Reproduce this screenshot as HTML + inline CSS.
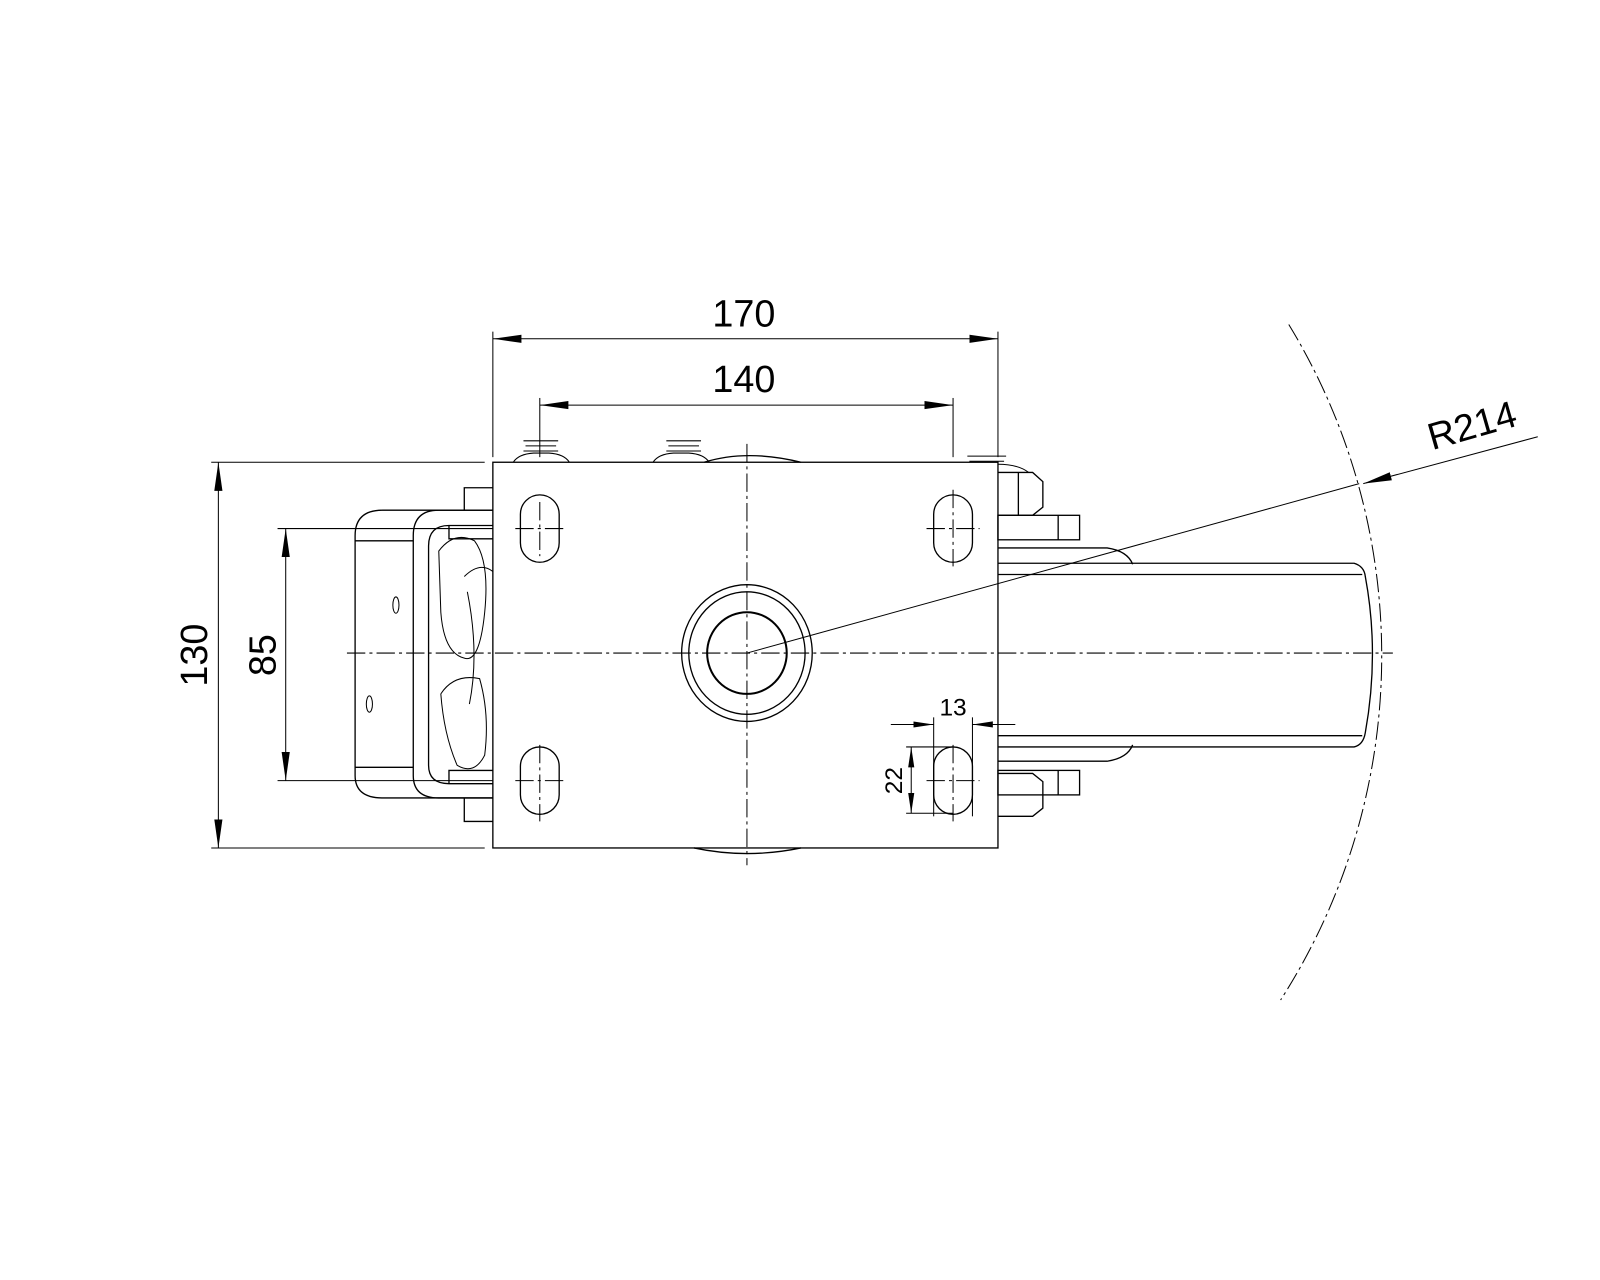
<!DOCTYPE html>
<html><head><meta charset="utf-8"><style>html,body{margin:0;padding:0;background:#fff}svg{display:block}</style></head>
<body>
<svg width="1600" height="1280" viewBox="0 0 1568 1254.4" xmlns="http://www.w3.org/2000/svg" font-family="Liberation Sans, sans-serif">
<defs>
<marker id="a" viewBox="0 0 28 10" refX="28" refY="5" markerWidth="28" markerHeight="10" markerUnits="userSpaceOnUse" orient="auto-start-reverse"><path d="M0,1 L28,5 L0,9 z" fill="#000"/></marker>
<marker id="b" viewBox="0 0 20 8" refX="20" refY="4" markerWidth="20" markerHeight="8" markerUnits="userSpaceOnUse" orient="auto-start-reverse"><path d="M0,1 L20,4 L0,7 z" fill="#000"/></marker>
</defs>
<g fill="none" stroke="#000" stroke-width="1.3">
<g stroke-dasharray="18,4,3,4" stroke-width="1">
<line x1="340" y1="640" x2="1365" y2="640"/>
<line x1="732" y1="435" x2="732" y2="848"/>
<line x1="529" y1="492" x2="529" y2="545"/><line x1="505" y1="518" x2="555" y2="518"/>
<line x1="934" y1="480" x2="934" y2="555"/><line x1="908" y1="518" x2="960" y2="518"/>
<line x1="529" y1="730" x2="529" y2="805"/><line x1="505" y1="765" x2="555" y2="765"/>
<line x1="934" y1="730" x2="934" y2="805"/><line x1="908" y1="765" x2="960" y2="765"/>
<path d="M1263,318 A624,624 0 0 1 1255,980"/>
</g>
<rect x="483" y="453" width="495" height="378"/>
<rect x="510" y="485" width="38" height="66" rx="19"/>
<rect x="915" y="485" width="38" height="66" rx="19"/>
<rect x="510" y="732" width="38" height="66" rx="19"/>
<rect x="915" y="732" width="38" height="66" rx="19"/>
<ellipse cx="732" cy="640" rx="64" ry="67"/>
<ellipse cx="732" cy="640" rx="57" ry="60"/>
<ellipse cx="732" cy="640" rx="39" ry="40" stroke-width="2"/>
<path d="M680,831 Q732,842 785,831"/>
<path d="M690,453 Q732,440 785,453"/>
<g stroke-width="1">
<path d="M513,432 h34 M515,437 h30 M513,442 h34 M503,453 q5,-8 20,-9 h15 q15,1 20,9"/>
<path d="M653,432 h34 M655,437 h30 M653,442 h34 M640,453 q5,-8 20,-9 h15 q15,1 20,9"/>
<path d="M948,447 h38 M950,452 h34 M978,455 q20,0 30,8"/>
</g>
<path d="M978,463 H1012 L1022,472 V497 L1012,505 H978"/>
<line x1="998" y1="463" x2="998" y2="505"/>
<rect x="978" y="505" width="80" height="24"/><line x1="1037" y1="505" x2="1037" y2="529"/>
<path d="M978,800 H1012 L1022,792 V766 L1012,758 H978"/>
<rect x="978" y="755" width="80" height="24"/><line x1="1037" y1="755" x2="1037" y2="779"/>
<path d="M978,537 H1085 Q1105,540 1110,553"/>
<path d="M978,746 H1085 Q1105,743 1110,730"/>
<path d="M978,552 H1327 Q1337,555 1338,565 Q1352,640 1338,718 Q1336,730 1327,732 H978"/>
<line x1="978" y1="563" x2="1335" y2="563"/>
<line x1="978" y1="721" x2="1335" y2="721"/>
<path d="M483,500 H375 Q348,500 348,525 V760 Q348,782 375,782 H483"/>
<path d="M483,500 H430 Q405,500 405,525 V760 Q405,782 430,782 H483"/>
<path d="M348,530 H405 M348,752 H405"/>
<path d="M483,478 H455 V500 M483,805 H455 V782"/>
<path d="M483,515 H440 Q420,515 420,535 V750 Q420,768 440,768 H483"/>
<path d="M440,515 V528 H483 M440,768 V755 H483"/>
<g stroke-width="1">
<path d="M430,540 Q445,520 465,530 Q480,550 475,600 Q470,650 455,645 Q435,640 432,600 Z"/>
<path d="M455,565 Q470,550 483,560 M458,580 Q470,640 460,690 M432,680 Q445,660 470,665 Q480,700 475,740 Q465,760 448,750 Q435,720 432,680"/>
<ellipse cx="388" cy="593" rx="3" ry="8"/>
<ellipse cx="362" cy="690" rx="3" ry="8"/>
</g>
</g>
<g stroke="#000" stroke-width="1" fill="none">
<line x1="483" y1="325" x2="483" y2="448"/>
<line x1="978" y1="325" x2="978" y2="448"/>
<line x1="483" y1="332" x2="978" y2="332" marker-start="url(#a)" marker-end="url(#a)"/>
<line x1="529" y1="390" x2="529" y2="448"/>
<line x1="934" y1="390" x2="934" y2="448"/>
<line x1="529" y1="397" x2="934" y2="397" marker-start="url(#a)" marker-end="url(#a)"/>
<line x1="207" y1="453" x2="475" y2="453"/>
<line x1="207" y1="831" x2="475" y2="831"/>
<line x1="214" y1="453" x2="214" y2="831" marker-start="url(#a)" marker-end="url(#a)"/>
<line x1="272" y1="518" x2="483" y2="518"/>
<line x1="272" y1="765" x2="483" y2="765"/>
<line x1="280" y1="518" x2="280" y2="765" marker-start="url(#a)" marker-end="url(#a)"/>
<line x1="915" y1="703" x2="915" y2="800"/>
<line x1="953" y1="703" x2="953" y2="800"/>
<line x1="873" y1="710" x2="915" y2="710" marker-end="url(#b)"/>
<line x1="995" y1="710" x2="953" y2="710" marker-end="url(#b)"/>
<line x1="888" y1="732" x2="934" y2="732"/>
<line x1="888" y1="797" x2="934" y2="797"/>
<line x1="893" y1="732" x2="893" y2="797" marker-start="url(#b)" marker-end="url(#b)"/>
<line x1="732" y1="640" x2="1332" y2="474"/>
<line x1="1507" y1="428" x2="1336" y2="474" marker-end="url(#a)"/>
</g>
<g fill="#000" font-size="37">
<text x="729" y="320" text-anchor="middle">170</text>
<text x="729" y="384" text-anchor="middle">140</text>
<text transform="translate(203,642) rotate(-90)" text-anchor="middle">130</text>
<text transform="translate(270,642) rotate(-90)" text-anchor="middle">85</text>
<text transform="translate(1446,429) rotate(-16)" text-anchor="middle">R214</text>
<text x="934" y="701" text-anchor="middle" font-size="24">13</text>
<text transform="translate(884,765) rotate(-90)" text-anchor="middle" font-size="24">22</text>
</g>
</svg>
</body></html>
